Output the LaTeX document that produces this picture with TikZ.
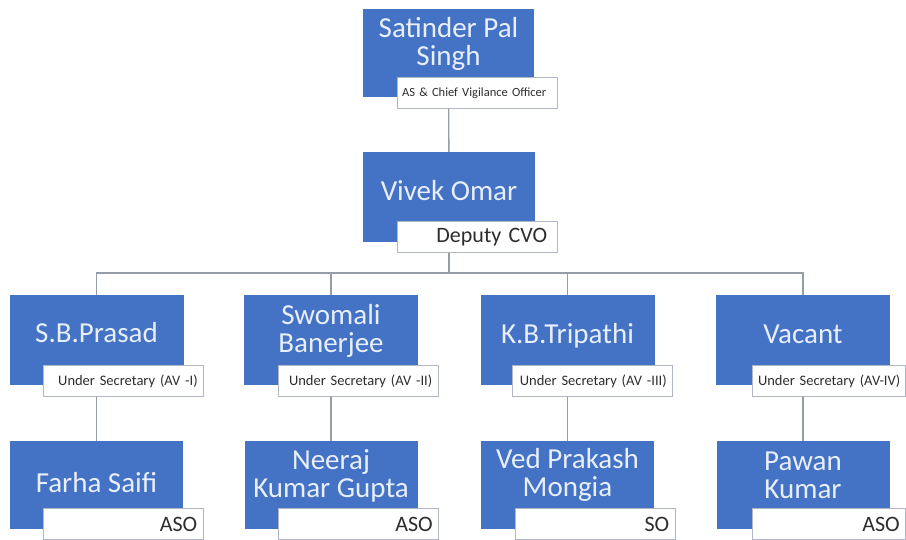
\documentclass[tikz,border=0pt]{standalone}
\usepackage{fontspec}
\setmainfont{Carlito}
\usetikzlibrary{backgrounds}

\definecolor{cvoblue}{RGB}{68,114,196}
\definecolor{nametxt}{RGB}{232,239,250}
\definecolor{rolegrey}{RGB}{176,182,198}
\definecolor{roletxt}{RGB}{45,45,45}
\definecolor{linkgrey}{RGB}{150,156,168}

% fixed line height/depth for the name lines
\newcommand\nstrut{\rule[-6pt]{0pt}{27pt}}

\begin{document}
\begin{tikzpicture}[x=1pt,y=-1pt,
  person/.style={fill=cvoblue, draw=none, minimum width=174pt, minimum height=90pt, inner sep=0pt},
  nametext/.style={text=nametxt, font=\fontsize{29}{28}\selectfont, align=center, inner sep=0pt},
  rolebox/.style={draw=rolegrey, fill=white, line width=0.8pt, minimum width=160pt,
    minimum height=31pt, inner xsep=6pt, inner ysep=0pt, text width=148pt,
    align=right, anchor=north west, text=roletxt},
  smallrole/.style={font=\fontsize{14.5}{16}\selectfont},
  bigrole/.style={font=\fontsize{22}{24}\selectfont},
  link/.style={draw=linkgrey, line width=1.4pt}]
\useasboundingbox (0,0) rectangle (906,540);

% ---------- boxes ----------
\node[person, minimum width=171pt, minimum height=88pt] (spsingh) at (448.5,53) {};
\node[person, minimum width=172pt] (vomar) at (449,197) {};

\node[person] (sbp) at (96.5,340) {};
\node[person] (swo) at (331,340) {};
\node[person] (kbt) at (567.5,340) {};
\node[person] (vac) at (803,340) {};

\node[person, minimum width=173pt, minimum height=88pt] (farha) at (96.5,485) {};
\node[person, minimum width=173pt, minimum height=88pt] (neeraj) at (331,485) {};
\node[person, minimum width=173pt, minimum height=88pt] (ved) at (567.5,485) {};
\node[person, minimum width=173pt, minimum height=88pt] (pawan) at (803,485) {};

% ---------- names ----------
\node[nametext] (spsingh-n) at ([yshift=9pt]spsingh.center) {\nstrut Satinder Pal\\\nstrut Singh};
\node[nametext] (vomar-n) at ([yshift=4pt]vomar.center) {\nstrut Vivek Omar};
\node[nametext] (sbp-n) at ([yshift=5pt]sbp.center) {\nstrut S.B.Prasad};
\node[nametext] (swo-n) at ([yshift=9pt]swo.center) {\nstrut Swomali\\\nstrut Banerjee};
\node[nametext] (kbt-n) at ([yshift=4pt]kbt.center) {\nstrut K.B.Tripathi};
\node[nametext] (vac-n) at ([yshift=4pt]vac.center) {\nstrut Vacant};
\node[nametext] (farha-n) at ([yshift=0pt]farha.center) {\nstrut Farha Saifi};
\node[nametext] (neeraj-n) at ([yshift=9pt]neeraj.center) {\nstrut Neeraj\\\nstrut Kumar Gupta};
\node[nametext] (ved-n) at ([yshift=10pt]ved.center) {\nstrut Ved Prakash\\\nstrut Mongia};
\node[nametext] (pawan-n) at ([yshift=8pt]pawan.center) {\nstrut Pawan\\\nstrut Kumar};

% ---------- role tags ----------
\node[rolebox, font=\fontsize{12.5}{14}\selectfont, align=left, inner xsep=5pt, text width=150pt] (spsingh-r)
  at ([xshift=34pt,yshift=20pt]spsingh.south west) {\mbox{AS \& Chief Vigilance Officer}};
\node[rolebox, bigrole, inner xsep=10pt, text width=140pt] (vomar-r) at ([xshift=34pt,yshift=21pt]vomar.south west) {Deputy CVO};

\node[rolebox, smallrole] (sbp-r) at ([xshift=34pt,yshift=20pt]sbp.south west) {Under Secretary (AV -I)};
\node[rolebox, smallrole] (swo-r) at ([xshift=34pt,yshift=20pt]swo.south west) {Under Secretary (AV -II)};
\node[rolebox, smallrole] (kbt-r) at ([xshift=32pt,yshift=20pt]kbt.south west) {Under Secretary (AV -III)};
\node[rolebox, smallrole, minimum width=153pt, text width=143pt, inner xsep=5pt] (vac-r) at ([xshift=36pt,yshift=20pt]vac.south west) {Under Secretary (AV-IV)};

\node[rolebox, bigrole] (farha-r) at ([xshift=33pt,yshift=21pt]farha.south west) {ASO};
\node[rolebox, bigrole] (neeraj-r) at ([xshift=34pt,yshift=21pt]neeraj.south west) {ASO};
\node[rolebox, bigrole] (ved-r) at ([xshift=34pt,yshift=21pt]ved.south west) {SO};
\node[rolebox, bigrole, minimum width=153pt, text width=141pt] (pawan-r) at ([xshift=36pt,yshift=21pt]pawan.south west) {ASO};

% ---------- connectors ----------
\coordinate (bus) at (449,273);
\begin{scope}[on background layer]
  \draw[link] (spsingh) -- (vomar);
  \draw[link] (vomar.south) -- (bus);
  \draw[link] (sbp.north) |- (bus) -| (vac.north);
  \draw[link] (swo.north) -- (swo.north |- bus);
  \draw[link] (kbt.north) -- (kbt.north |- bus);
  \draw[link] (sbp) -- (farha);
  \draw[link] (swo) -- (neeraj);
  \draw[link] (kbt) -- (ved);
  \draw[link] (vac) -- (pawan);
\end{scope}
\end{tikzpicture}
\end{document}
